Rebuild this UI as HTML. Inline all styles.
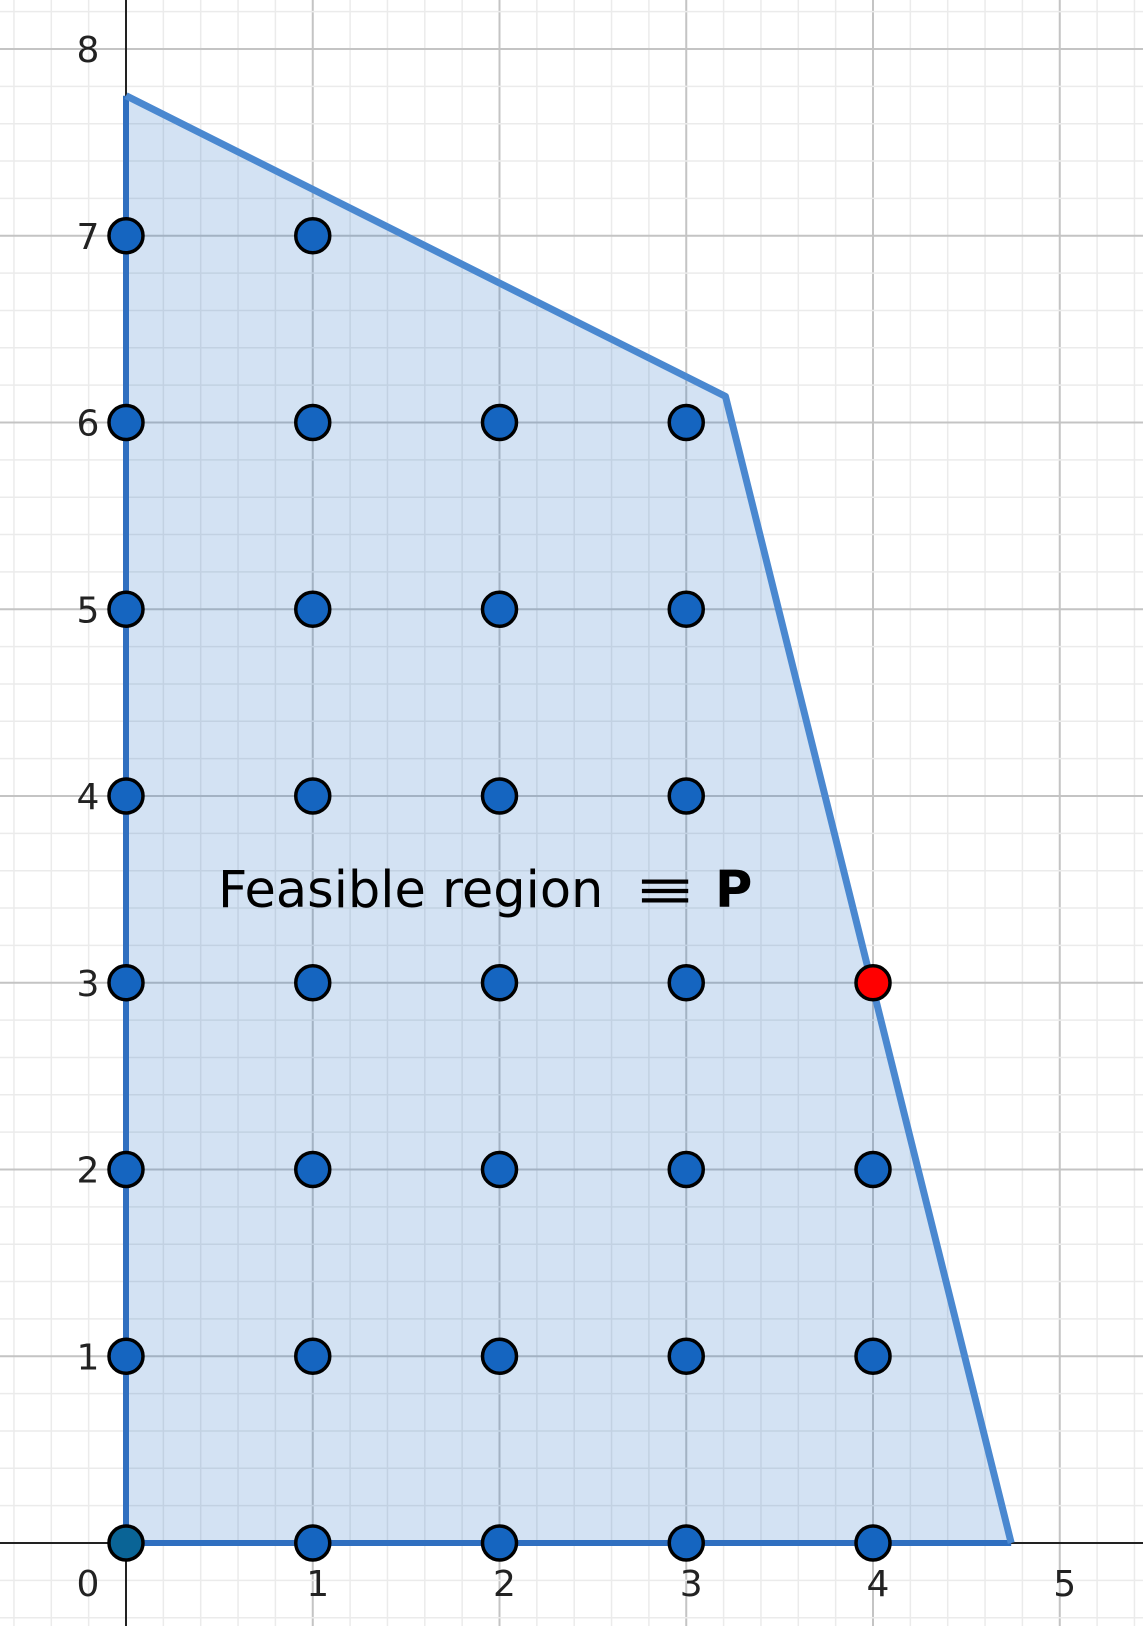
<!DOCTYPE html>
<html><head><meta charset="utf-8"><style>html,body{margin:0;padding:0;background:#fff}svg{display:block}</style></head>
<body>
<svg id="chart" width="1143" height="1626" viewBox="0 0 1143 1626" xmlns="http://www.w3.org/2000/svg">
<g id="grid"></g>
<polygon id="region" fill="#1565c0" fill-opacity="0.19" stroke="none"></polygon>
<g id="axes"></g>
<polyline id="boundary" fill="none" stroke="#4a88d0" stroke-width="7" stroke-linejoin="round"></polyline>
<g id="ticks"></g>
<g id="points"></g>
<g font-family="'DejaVu Sans','Liberation Sans',sans-serif" font-size="51" fill="#000">
<text x="218" y="907">Feasible region</text>
<text transform="translate(634,907) scale(1.45,1)" x="0" y="0">≡</text>
<text x="715" y="907" font-weight="bold">P</text>
</g>
</svg>
<script>
const xTicks=[0,1,2,3,4,5];
const yTicks=[1,2,3,4,5,6,7,8];
const vertices=[[0,0],[0,7.75],[3.21,6.14],[4.74,0]];
const blueX=[0,1,0,1,2,3,0,1,2,3,0,1,2,3,0,1,2,3,0,1,2,3,4,0,1,2,3,4,1,2,3,4];
const blueY=[7,7,6,6,6,6,5,5,5,5,4,4,4,4,3,3,3,3,2,2,2,2,2,1,1,1,1,1,0,0,0,0];
const redPoint=[4,3];
const originPoint=[0,0];
const X0=126,Y0=1543,U=186.75;
const sx=v=>X0+v*U, sy=v=>Y0-v*U;
const NS="http://www.w3.org/2000/svg";
function mk(tag,attrs,parent){const e=document.createElementNS(NS,tag);for(const k in attrs)e.setAttribute(k,attrs[k]);parent.appendChild(e);return e;}
const grid=document.getElementById('grid');
for(let i=-5;i<=40;i++){const x=sx(i/5);if(x<0||x>1143)continue;
 const l=mk('line',{x1:x,y1:0,x2:x,y2:1626,stroke:i%5===0?'#c4c4c4':'#ebebeb','stroke-width':i%5===0?2:1.5},grid);
 
 }
for(let i=-5;i<=45;i++){const y=sy(i/5);if(y<0||y>1626)continue;
 const l=mk('line',{x1:0,y1:y,x2:1143,y2:y,stroke:i%5===0?'#c4c4c4':'#ebebeb','stroke-width':i%5===0?2:1.5},grid);
 
 }
const pts=vertices.map(v=>sx(v[0])+','+sy(v[1])).join(' ');
document.getElementById('region').setAttribute('points',pts);
const axes=document.getElementById('axes');
const xa=mk('line',{x1:0,y1:Y0,x2:1143,y2:Y0,stroke:'#222','stroke-width':2},axes);


const ya=mk('line',{x1:X0,y1:0,x2:X0,y2:1626,stroke:'#222','stroke-width':2},axes);


const b=document.getElementById('boundary');
b.setAttribute('points',[vertices[1],vertices[2],vertices[3]].map(v=>sx(v[0])+','+sy(v[1])).join(' '));
mk('line',{x1:sx(0),y1:sy(0),x2:sx(vertices[3][0]),y2:sy(0),stroke:'#2f6fc0','stroke-width':6},axes);
mk('line',{x1:sx(0),y1:sy(0),x2:sx(0),y2:sy(vertices[1][1]),stroke:'#2f6fc0','stroke-width':6},axes);
const ticks=document.getElementById('ticks');
const tf="'DejaVu Sans','Liberation Sans',sans-serif";
xTicks.forEach(v=>{const t=mk('text',{x:v===0?sx(v)-38:sx(v)+5,y:Y0+53,'font-family':tf,'font-size':36,fill:'#222','text-anchor':'middle'},ticks);t.textContent=v;
 
 });
yTicks.forEach(v=>{const t=mk('text',{x:X0-38,y:sy(v)+13,'font-family':tf,'font-size':36,fill:'#222','text-anchor':'middle'},ticks);t.textContent=v;
 
 });
const pg=document.getElementById('points');
function dot(x,y,fill,name){const c=mk('circle',{cx:sx(x),cy:sy(y),r:17,fill:fill,stroke:'#000','stroke-width':3.5},pg);
 
 }
blueX.forEach((x,i)=>dot(x,blueY[i],'#1565c0','lattice-point'));
dot(originPoint[0],originPoint[1],'#0a6496','origin-point');
dot(redPoint[0],redPoint[1],'#ff0000','optimal-point');
</script>
</body></html>
